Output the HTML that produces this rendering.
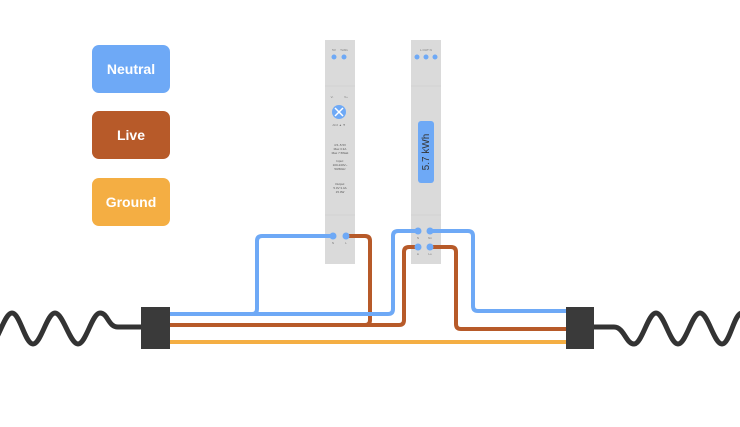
<!DOCTYPE html>
<html><head><style>
body{margin:0;width:740px;height:427px;background:#fff;overflow:hidden;font-family:"Liberation Sans",sans-serif}
.l{position:absolute;left:92px;width:78px;height:48px;border-radius:7px;color:#fff;font-weight:bold;font-size:14px;display:flex;align-items:center;justify-content:center}
</style></head><body>
<div class="l" style="top:45px;background:#6ea9f6">Neutral</div>
<div class="l" style="top:111px;background:#b75a29">Live</div>
<div class="l" style="top:178px;background:#f4ae43">Ground</div>
<svg width="740" height="427" style="position:absolute;left:0;top:0" font-family="Liberation Sans">
<g fill="#dadada"><rect x="325" y="40" width="30" height="224"/><rect x="411" y="40" width="30" height="224"/></g>
<g stroke="#c8c8c8" stroke-width="0.6"><line x1="325" y1="86" x2="355" y2="86"/><line x1="325" y1="215" x2="355" y2="215"/><line x1="411" y1="86" x2="441" y2="86"/><line x1="411" y1="215" x2="441" y2="215"/></g>
<g fill="#6ea9f6"><circle cx="334" cy="57" r="2.5"/><circle cx="344" cy="57" r="2.5"/><circle cx="417" cy="57" r="2.5"/><circle cx="426" cy="57" r="2.5"/><circle cx="435" cy="57" r="2.5"/>
<circle cx="339" cy="112" r="7"/><rect x="418" y="121" width="16" height="62" rx="3"/></g>
<path d="M335 108l8 8M343 108l-8 8" stroke="#fff" stroke-width="1.5"/>
<g font-size="3" fill="#777" text-anchor="middle"><text x="334" y="51">5V</text><text x="344" y="51">Tx/Rx</text><text x="426" y="51">L OUT N</text><text x="332" y="98">V-</text><text x="346" y="98">V+</text><text x="339" y="126">ADJ ▲ ▼</text><text x="333" y="244">N</text><text x="346" y="244">L</text><text x="418" y="239">N</text><text x="430" y="239">Nn</text><text x="418" y="255">Li</text><text x="430" y="255">Lo</text></g>
<text x="426" y="152" font-size="10" fill="#333" transform="rotate(-90 426 152)" text-anchor="middle" dy="3">5.7 kWh</text>
<g font-size="3" fill="#555" text-anchor="middle"><text x="340" y="146">4.5–5.5V</text><text x="340" y="150">Max 3.3A</text><text x="340" y="154">Max 7.5Watt</text><text x="340" y="162">Input:</text><text x="340" y="166">100-240V~</text><text x="340" y="170">50/60Hz</text><text x="340" y="185">Output:</text><text x="340" y="189">5.0V 3.4A</text><text x="340" y="193">15.0W</text></g>
<g fill="none" stroke-linejoin="round" stroke-width="4">
<path d="M170 314H252Q257 314 257 309V241Q257 236 262 236H333" stroke="#6ea9f6"/>
<path d="M170 325H365Q370 325 370 320V241Q370 236 365 236H346" stroke="#b75a29"/>
<path d="M170 314H388Q393 314 393 309V236Q393 231 398 231H418" stroke="#6ea9f6"/>
<path d="M170 325H399Q404 325 404 320V252Q404 247 409 247H418" stroke="#b75a29"/>
<path d="M430 231H468Q473 231 473 236V306Q473 311 478 311H566" stroke="#6ea9f6"/>
<path d="M430 247H451Q456 247 456 252V324Q456 329 461 329H566" stroke="#b75a29"/>
<path d="M170 342H566" stroke="#f4ae43"/>
<path d="M-10 344C-2 344 4 313 12 313C20 313 25 344 33 344C41 344 47 313 55 313C63 313 70 344 78 344C86 344 92 313 100 313C108 313 108 327 118 327H141" stroke="#333" stroke-width="5"/>
<path d="M594 327H614C624 327 626 344 634 344C642 344 648 313 656 313C664 313 670 344 678 344C686 344 692 313 700 313C708 313 714 344 722 344C730 344 734 313 742 313" stroke="#333" stroke-width="5"/>
</g>
<g fill="#6ea9f6"><circle cx="333" cy="236" r="3.5"/><circle cx="346" cy="236" r="3.5"/><circle cx="418" cy="231" r="3.5"/><circle cx="430" cy="231" r="3.5"/><circle cx="418" cy="247" r="3.5"/><circle cx="430" cy="247" r="3.5"/></g>
<rect x="141" y="307" width="29" height="42" fill="#3a3a3a"/><rect x="566" y="307" width="28" height="42" fill="#3a3a3a"/>
</svg>
</body></html>
